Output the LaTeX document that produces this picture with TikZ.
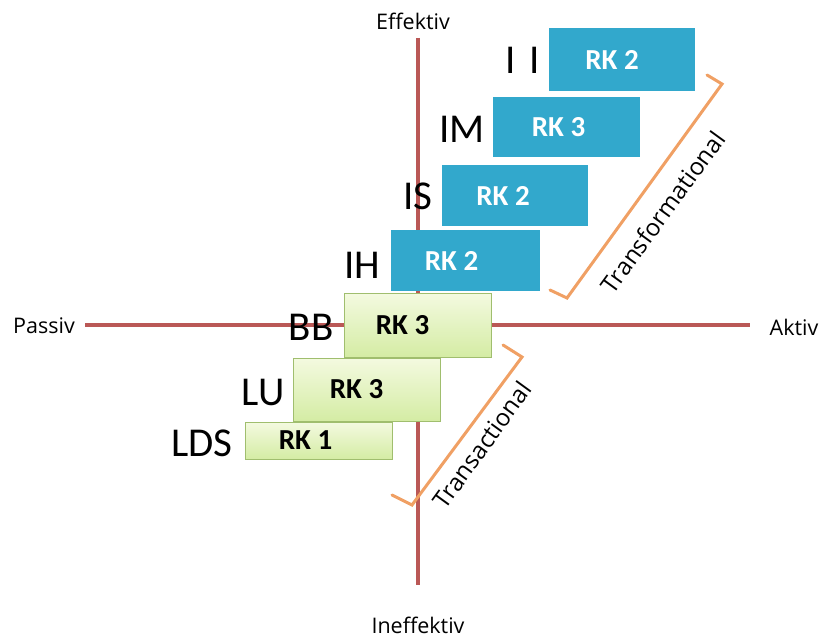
\documentclass[tikz,border=0pt]{standalone}
\usepackage{fontspec}
\setmainfont{Carlito}
\newfontfamily\axfont{Open Sans}
\definecolor{axisred}{RGB}{186,88,86}
\definecolor{boxblue}{RGB}{50,168,204}
\definecolor{gtop}{RGB}{244,250,224}
\definecolor{gbot}{RGB}{212,236,164}
\definecolor{gborder}{RGB}{160,190,110}
\definecolor{brorange}{RGB}{240,160,100}
\tikzset{
  axisline/.style={draw=axisred, line width=4.5pt},
  bracketline/.style={draw=brorange, line width=3pt, line join=miter, line cap=round},
  bluebox/.style={fill=boxblue, inner sep=0pt, outer sep=0pt},
  greenbox/.style={top color=gtop, bottom color=gbot, draw=gborder, line width=0.8pt, inner sep=0pt, outer sep=0pt},
  btxt/.style={font=\fontsize{29}{32}\selectfont\bfseries, text=white, inner sep=0pt},
  gtxt/.style={font=\fontsize{29}{32}\selectfont\bfseries, text=black, inner sep=0pt},
  biglabel/.style={font=\fontsize{41}{44}\selectfont, text=black, inner sep=0pt},
  axlabel/.style={font=\axfont\fontsize{21.5}{24}\selectfont, text=black, inner sep=0pt},
  brlabel/.style={font=\axfont\fontsize{24}{27}\selectfont, text=black, inner sep=0pt, rotate=54},
}
\begin{document}
\begin{tikzpicture}[x=1pt,y=-1pt]
\useasboundingbox (0,0) rectangle (821,639);
% axes
\coordinate (vtop) at (418,38);
\coordinate (vbot) at (418,585);
\coordinate (hl) at (85,325);
\coordinate (hr) at (750,325);
\draw[axisline] (vtop) -- (vbot);
\draw[axisline] (hl) -- (hr);
\node[axlabel] (eff) at (413,21) {Effektiv};
\node[axlabel, anchor=base] (ineff) at (418,633) {Ineffektiv};
\node[axlabel] (pas) at (44,326) {Passiv};
\node[axlabel] (akt) at (794,327) {Aktiv};
% brackets
\coordinate (ta) at (707,75);
\coordinate (tb) at (722,84);
\coordinate (tc) at (567,298);
\coordinate (td) at (550,290);
\draw[bracketline] (ta) -- (tb) -- (tc) -- (td);
\coordinate (sa) at (503,345);
\coordinate (sb) at (522,357);
\coordinate (sc) at (412,505);
\coordinate (sd) at (392,495);
\draw[bracketline] (sa) -- (sb) -- (sc) -- (sd);
\node[brlabel] (trf) at (663,212) {Transformational};
\node[brlabel] (trc) at (482,445) {Transactional};
% labels
\node[biglabel] (lii) at (523,60) {I\,\,I};
\node[biglabel] (lim) at (462,129) {IM};
\node[biglabel] (lis) at (418,196) {IS};
\node[biglabel] (lih) at (362,265) {IH};
\node[biglabel] (lbb) at (311,327) {BB};
\node[biglabel] (llu) at (263,392) {LU};
\node[biglabel] (llds) at (202,443) {LDS};
% boxes
\node[bluebox, minimum width=146pt, minimum height=63pt] (ii) at (622,59.5) {};
\node[bluebox, minimum width=147pt, minimum height=60pt] (im) at (566.5,127) {};
\node[bluebox, minimum width=146pt, minimum height=61pt] (is) at (515,195.5) {};
\node[bluebox, minimum width=149pt, minimum height=61pt] (ih) at (465.5,260.5) {};
\node[greenbox, minimum width=147pt, minimum height=64pt] (bb) at (417.5,325) {};
\node[greenbox, minimum width=147pt, minimum height=63pt] (lu) at (366.5,389.5) {};
\node[greenbox, minimum width=147pt, minimum height=37pt] (lds) at (318.5,440.5) {};
\node[btxt] (tii) at ([xshift=-10pt]ii.center) {RK 2};
\node[btxt] (tim) at ([xshift=-8pt]im.center) {RK 3};
\node[btxt] (tis) at ([xshift=-12pt]is.center) {RK 2};
\node[btxt] (tih) at ([xshift=-14pt]ih.center) {RK 2};
\node[gtxt] (tbb) at ([xshift=-15pt]bb.center) {RK 3};
\node[gtxt] (tlu) at ([xshift=-10pt]lu.center) {RK 3};
\node[gtxt] (tlds) at ([xshift=-13pt]lds.center) {RK 1};
\end{tikzpicture}
\end{document}
